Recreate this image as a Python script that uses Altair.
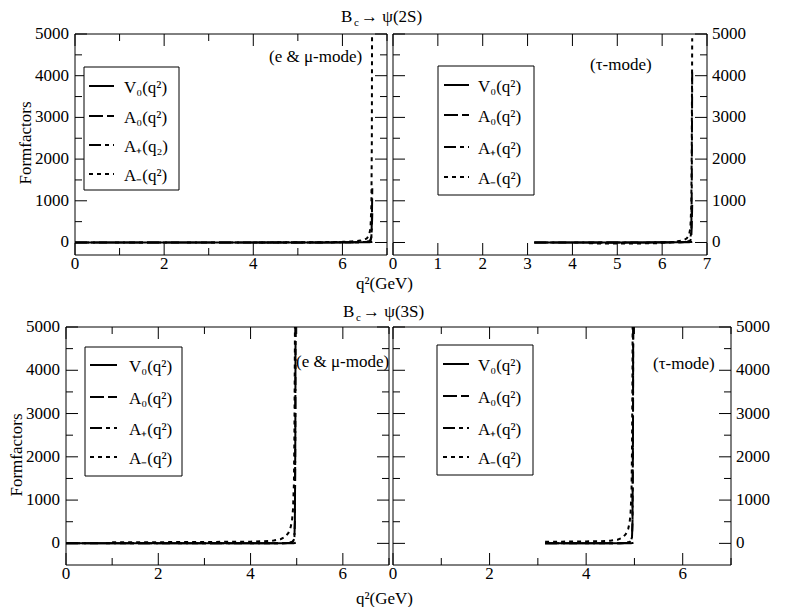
import altair as alt
import pandas as pd

FONT = "Liberation Serif, Times New Roman, Times, serif"
FS = 17

SERIES = ["V0", "A0", "A+", "A-"]
DASHES = [[1, 0], [14, 4], [12, 4, 4, 4], [4, 4]]

# ---------------- data ----------------
# B_c -> psi(2S), e & mu mode
tl_q = [0.0, 1.0, 2.0, 3.0, 4.0, 5.0, 5.5, 6.0, 6.2, 6.4, 6.5, 6.55, 6.6, 6.63, 6.65, 6.66, 6.67]
tl_V0 = [0.2, 0.3, 0.4, 0.5, 0.7, 1.0, 1.3, 2.0, 2.6, 3.5, 4.5, 5.5, 7, 9, 12, 15, 20]
tl_A0 = [0.3, 0.4, 0.5, 0.7, 1.0, 1.6, 2.2, 4, 5.5, 9, 13, 18, 30, 60, 150, 500, 1300]
tl_Ap = [0.3, 0.4, 0.5, 0.7, 1.0, 1.5, 2.0, 3.5, 5, 8, 12, 16, 25, 50, 120, 350, 700]
tl_Am_q = [4.0, 4.5, 5.0, 5.5, 6.0, 6.2, 6.4, 6.5, 6.55, 6.6, 6.63, 6.65, 6.66, 6.67]
tl_Am = [2, 3, 5, 8, 15, 25, 45, 70, 100, 180, 350, 900, 2500, 8000]

# B_c -> psi(2S), tau mode
tr_q = [3.15, 3.5, 4.0, 4.5, 5.0, 5.5, 6.0, 6.2, 6.4, 6.5, 6.55, 6.6, 6.63, 6.65, 6.66, 6.67]
tr_V0 = [0.5, 0.6, 0.7, 0.9, 1.2, 1.6, 2.3, 2.8, 3.6, 4.5, 5.5, 7, 9, 12, 15, 20]
tr_A0 = [0.6, 0.7, 0.9, 1.1, 1.5, 2.1, 3.5, 4.5, 7, 10, 14, 25, 50, 130, 400, 900]
tr_Ap = [0.6, 0.7, 0.9, 1.1, 1.5, 2.1, 3.5, 4.5, 7, 10, 14, 30, 80, 300, 1200, 4100]
tr_Am_q = [4.37, 4.6, 5.0, 5.4, 5.84, 6.0, 6.2, 6.3, 6.4, 6.5, 6.55, 6.6, 6.63, 6.65, 6.66, 6.67]
tr_Am = [-20, -22, -24, -22, -20, -5, 5, 20, 40, 70, 100, 180, 350, 900, 2200, 4900]

# B_c -> psi(3S), e & mu mode
bl_q = [0.0, 1.0, 2.0, 3.0, 4.0, 4.5, 4.7, 4.8, 4.85, 4.9, 4.93, 4.95, 4.96, 4.97, 4.98]
bl_V0 = [0.2, 0.3, 0.4, 0.6, 0.9, 1.3, 1.7, 2.2, 2.7, 3.5, 4.5, 6, 8, 11, 15]
bl_A0 = [0.3, 0.4, 0.6, 0.9, 1.5, 3, 5, 9, 15, 30, 60, 150, 500, 2500, 8000]
bl_Ap = [0.3, 0.4, 0.6, 0.9, 1.5, 3, 5, 9, 15, 30, 60, 150, 500, 2500, 8000]
bl_Am_q = [1.0, 2.0, 3.0, 4.0, 4.3, 4.5, 4.65, 4.75, 4.82, 4.87, 4.9, 4.92, 4.94, 4.95, 4.96, 4.97]
bl_Am = [25, 28, 32, 40, 50, 65, 95, 150, 240, 380, 550, 800, 1400, 2500, 4500, 9000]

# B_c -> psi(3S), tau mode
br_q = [3.15, 3.5, 4.0, 4.5, 4.7, 4.8, 4.85, 4.9, 4.93, 4.95, 4.96, 4.97, 4.98]
br_V0 = [0.5, 0.6, 0.9, 1.3, 1.7, 2.2, 2.7, 3.5, 4.5, 6, 8, 11, 15]
br_A0 = [0.6, 0.7, 1.5, 3, 5, 9, 15, 30, 60, 150, 500, 2500, 8000]
br_Ap = [0.6, 0.7, 1.5, 3, 5, 9, 15, 30, 60, 150, 500, 2500, 8000]
br_Am_q = [3.15, 3.5, 4.0, 4.3, 4.5, 4.65, 4.75, 4.82, 4.87, 4.9, 4.92, 4.94, 4.95, 4.96, 4.97]
br_Am = [40, 40, 45, 50, 60, 85, 130, 210, 330, 480, 700, 1200, 2200, 4000, 8000]

LABELS_TL = ["V\u2080(q\u00b2)", "A\u2080(q\u00b2)", "A\u208a(q\u2082)", "A\u208b(q\u00b2)"]
LABELS = ["V\u2080(q\u00b2)", "A\u2080(q\u00b2)", "A\u208a(q\u00b2)", "A\u208b(q\u00b2)"]

X_MAJ_2 = [0, 2, 4, 6]
X_MIN_2 = [1, 3, 5, 7]
X_MAJ_1 = [0, 1, 2, 3, 4, 5, 6, 7]
Y_MAJ = [0, 1000, 2000, 3000, 4000, 5000]
Y_MIN = [500, 1500, 2500, 3500, 4500]

ONE = pd.DataFrame({"k": [0]})


def long_df(qs_list, vs_list):
    rows = []
    for s, qs, vs in zip(SERIES, qs_list, vs_list):
        for q, v in zip(qs, vs):
            rows.append({"s": s, "q": q, "v": v})
    return pd.DataFrame(rows)


def txt(s, x, y, size=FS, align="left", baseline="alphabetic", angle=None, dy=0):
    kw = dict(text=s, font=FONT, fontSize=size, align=align, baseline=baseline,
              color="black", dy=dy)
    if angle is not None:
        kw["angle"] = angle
    return alt.Chart(ONE).mark_text(**kw).encode(x=alt.value(x), y=alt.value(y))


def panel(df, w, h, ox, ydom, yorient, xmaj, xmin, labels, legend, note, extras):
    """ox: left offset of the frame inside the view (pixels)."""
    xs = alt.Scale(domain=[0, 7], nice=False, zero=False, range=[ox, w])
    ys = alt.Scale(domain=ydom, nice=False, zero=False)
    lines = alt.Chart(df).mark_line(clip=True, strokeWidth=2, color="black").encode(
        x=alt.X("q:Q", scale=xs, axis=None),
        y=alt.Y("v:Q", scale=ys, axis=None),
        strokeDash=alt.StrokeDash("s:N", scale=alt.Scale(domain=SERIES, range=DASHES),
                                  legend=None),
        order=alt.Order("q:Q"),
    )
    layers = [lines]

    def xt(vals, L):
        d = pd.DataFrame({"t": vals})
        base = alt.Chart(d).mark_rule(color="black", strokeWidth=1)
        return [
            base.encode(x=alt.X("t:Q", scale=xs, axis=None), y=alt.value(h), y2=alt.value(h - L)),
            base.encode(x=alt.X("t:Q", scale=xs, axis=None), y=alt.value(0), y2=alt.value(L)),
        ]

    def yt(vals, L):
        d = pd.DataFrame({"t": vals})
        base = alt.Chart(d).mark_rule(color="black", strokeWidth=1)
        return [
            base.encode(y=alt.Y("t:Q", scale=ys, axis=None), x=alt.value(ox), x2=alt.value(ox + L)),
            base.encode(y=alt.Y("t:Q", scale=ys, axis=None), x=alt.value(w), x2=alt.value(w - L)),
        ]

    layers += xt(xmaj, 12)
    if xmin:
        layers += xt(xmin, 7)
    layers += yt(Y_MAJ, 12)
    layers += yt(Y_MIN, 7)

    # tick labels
    layers.append(alt.Chart(pd.DataFrame({"t": xmaj})).mark_text(
        font=FONT, fontSize=FS, color="black", align="center", baseline="top").encode(
        x=alt.X("t:Q", scale=xs, axis=None), y=alt.value(h + 1),
        text=alt.Text("t:Q", format="d")))
    if yorient == "left":
        ylab = dict(x=alt.value(ox - 6))
        yalign = "right"
    else:
        ylab = dict(x=alt.value(w + 5))
        yalign = "left"
    layers.append(alt.Chart(pd.DataFrame({"t": Y_MAJ})).mark_text(
        font=FONT, fontSize=FS, color="black", align=yalign, baseline="middle").encode(
        y=alt.Y("t:Q", scale=ys, axis=None), text=alt.Text("t:Q", format="d"), **ylab))

    # legend box
    (bx0, bx1, by0, by1), rows, (lx0, lx1), tx = legend
    layers.append(alt.Chart(ONE).mark_rect(fill="white", stroke="black", strokeWidth=1).encode(
        x=alt.value(bx0 + ox), x2=alt.value(bx1 + ox), y=alt.value(by0), y2=alt.value(by1)))
    for i, lab in enumerate(labels):
        layers.append(alt.Chart(ONE).mark_rule(color="black", strokeWidth=2,
                                               strokeDash=DASHES[i]).encode(
            x=alt.value(lx0 + ox), x2=alt.value(lx1 + ox), y=alt.value(rows[i])))
        layers.append(txt(lab, tx + ox, rows[i], baseline="middle", dy=2))

    ntext, nx, ny = note
    layers.append(txt(ntext, nx + ox, ny))
    for e in extras:
        s, x, y, kw = e
        layers.append(txt(s, x + ox, y, **kw))

    # frame
    layers.append(alt.Chart(ONE).mark_rect(fillOpacity=0, stroke="black", strokeWidth=1).encode(
        x=alt.value(ox), x2=alt.value(w), y=alt.value(0), y2=alt.value(h)))
    return alt.layer(*layers).properties(
        width=w, height=h, view=alt.ViewBackground(strokeOpacity=0))


df_tl = long_df([tl_q, tl_q, tl_q, tl_Am_q], [tl_V0, tl_A0, tl_Ap, tl_Am])
df_tr = long_df([tr_q, tr_q, tr_q, tr_Am_q], [tr_V0, tr_A0, tr_Ap, tr_Am])
df_bl = long_df([bl_q, bl_q, bl_q, bl_Am_q], [bl_V0, bl_A0, bl_Ap, bl_Am])
df_br = long_df([br_q, br_q, br_q, br_Am_q], [br_V0, br_A0, br_Ap, br_Am])

tl_extras = [
    ("B", 266, -12, {}), ("c", 279, -8, {"size": 11}), ("\u2192 \u03c8(2S)", 286, -12, {}),
    ("q\u00b2(GeV)", 281, 255, {}),
    ("Formfactors", -49, 109, {"align": "center", "baseline": "middle", "angle": 270}),
]
bl_extras = [
    ("B", 277, -10, {}), ("c", 290, -6, {"size": 11}), ("\u2192 \u03c8(3S)", 297, -10, {}),
    ("q\u00b2(GeV)", 290, 277, {}),
    ("Formfactors", -49, 128, {"align": "center", "baseline": "middle", "angle": 270}),
]

tl = panel(df_tl, 321, 221, 9, [-300, 5000], "left", X_MAJ_2, X_MIN_2, LABELS_TL,
           ((9, 104, 33, 156), [52, 82, 111, 140], (14, 39), 49),
           ("(e & \u03bc-mode)", 194, 28), tl_extras)
tr = panel(df_tr, 314, 221, 0, [-300, 5000], "right", X_MAJ_1, [], LABELS,
           ((45, 141, 32, 161), [51, 81, 113, 143], (51, 76), 85),
           ("(\u03c4-mode)", 197, 36), [])
bl = panel(df_bl, 323, 238, 0, [-500, 5000], "left", X_MAJ_2, X_MIN_2, LABELS,
           ((19, 116, 20, 149), [38, 70, 101, 130], (24, 51), 63),
           ("(e & \u03bc-mode)", 230, 40), bl_extras)
br = panel(df_br, 338, 238, 0, [-500, 5000], "right", X_MAJ_2, X_MIN_2, LABELS,
           ((44, 140, 18, 148), [37, 69, 101, 130], (50, 76), 85),
           ("(\u03c4-mode)", 260, 42), [])

chart = alt.concat(
    tl, tr, bl, br, columns=2, spacing={"row": 72, "column": 4},
    bounds="flush", align="each",
).properties(
    padding={"left": 0, "top": 0, "right": 5, "bottom": 0}, background="white"
)

chart.save("out.html", embed_options={"renderer": "svg", "actions": False})
